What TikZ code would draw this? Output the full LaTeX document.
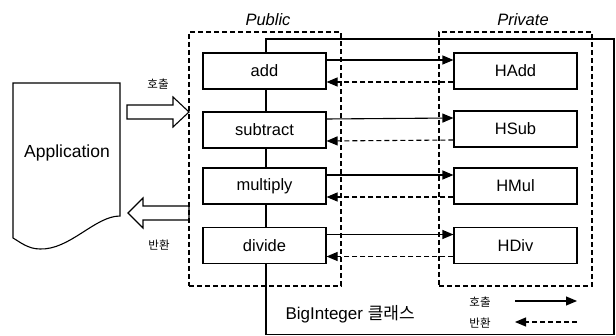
\documentclass[tikz,border=0pt]{standalone}
\usepackage{fontspec}
\setmainfont{Liberation Sans}
\newfontfamily\kr{Noto Sans CJK KR}
\usetikzlibrary{arrows.meta}
\begin{document}
\begin{tikzpicture}[x=1pt,y=-1pt,
  fn/.style={draw, fill=white, line width=1.1pt, minimum width=123pt, minimum height=36pt, inner sep=0pt, font=\fontsize{16.5}{19}\selectfont},
  grp/.style={draw, line width=1.1pt, dash pattern=on 5pt off 3pt, inner sep=0pt},
  grplabel/.style={font=\fontsize{16.5}{19}\selectfont\itshape},
  callarr/.style={line width=1.1pt, -{Triangle[length=11pt,width=9pt]}},
  retarr/.style={line width=1.1pt, dash pattern=on 5pt off 3pt, -{Triangle[length=11pt,width=9pt]}},
  blockarr/.style={draw, line width=1.1pt, line join=miter},
  krsmall/.style={font=\kr\fontsize{11.5}{13}\selectfont}
]
\useasboundingbox (0,0) rectangle (616,336);

% BigInteger class box
\node[draw, line width=1.1pt, minimum width=348pt, minimum height=295.5pt, inner sep=0pt] (cls) at (440,186.75) {};
\node[font=\fontsize{17}{20}\selectfont, anchor=west] (clslbl) at (282,314) {BigInteger {\kr 클래스}};

% group boxes
\node[grp, minimum width=152pt, minimum height=254pt] (public) at (265,159) {};
\node[grp, minimum width=153pt, minimum height=254pt] (private) at (515.5,159) {};
\node[grplabel] (publbl) at (268,20) {Public};
\node[grplabel] (privlbl) at (523,20) {Private};

% public functions
\node[fn] (add) at (264.5,71) {add};
\node[fn] (sub) at (264.5,130) {subtract};
\node[fn] (mul) at (264.5,186) {multiply};
\node[fn] (div) at (264.5,245.5) {divide};

% private functions
\node[fn] (hadd) at (515.5,71) {HAdd};
\node[fn] (hsub) at (515.5,129) {HSub};
\node[fn] (hmul) at (515.5,186) {HMul};
\node[fn] (hdiv) at (515.5,245.5) {HDiv};

% calls and returns
\foreach \a/\b in {add/hadd, sub/hsub, mul/hmul, div/hdiv}{
  \draw[callarr] ([yshift=11pt]\a.east) -- ([yshift=11pt]\b.west);
  \draw[retarr] ([yshift=-11pt]\b.west) -- ([yshift=-11pt]\a.east);
}

% application document
\draw[line width=1.1pt] (13,83) -- (120,83) -- (120,216)
  .. controls (95,216) and (70,250) .. (40,249)
  .. controls (28,249) and (20,242) .. (13,238) -- cycle;
\node[font=\fontsize{17.5}{20}\selectfont] (app) at (67,153) {Application};

% block arrows
\draw[blockarr] (127,105) -- (173,105) -- (173,97) -- (189,112) -- (173,127) -- (173,119) -- (127,119) -- cycle;
\draw[blockarr] (189,206) -- (143,206) -- (143,198) -- (128,213) -- (143,228) -- (143,220) -- (189,220) -- cycle;
\node[krsmall] (calllbl) at (158,84) {호출};
\node[krsmall] (retlbl) at (159,245) {반환};

% legend
\node[krsmall] (lgcall) at (480,302) {호출};
\node[krsmall] (lgret) at (480,323) {반환};
\coordinate (lc1) at (515,301);
\coordinate (lc2) at (577,301);
\coordinate (lr1) at (577,322);
\coordinate (lr2) at (515,322);
\draw[callarr] (lc1) -- (lc2);
\draw[retarr] (lr1) -- (lr2);
\end{tikzpicture}
\end{document}
